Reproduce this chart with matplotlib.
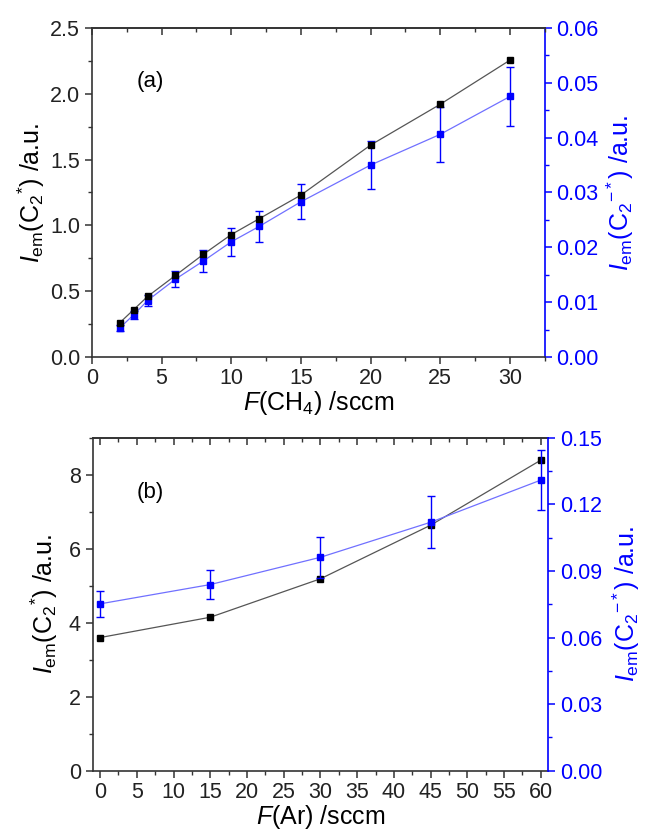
import matplotlib
matplotlib.use("Agg")
import matplotlib.pyplot as plt
from matplotlib.ticker import MultipleLocator, FormatStrFormatter

plt.rcParams['font.family'] = ['Liberation Sans', 'DejaVu Sans']
plt.rcParams['mathtext.fontset'] = 'custom'
plt.rcParams['mathtext.rm'] = 'Liberation Sans'
plt.rcParams['mathtext.it'] = 'Liberation Sans:italic'
plt.rcParams['mathtext.bf'] = 'Liberation Sans:bold'

# Panel (a) data
f_ch4 = [2, 3, 4, 6, 8, 10, 12, 15, 20, 25, 30]
c2_a = [0.26, 0.36, 0.46, 0.62, 0.78, 0.93, 1.05, 1.23, 1.61, 1.92, 2.255]
c2m_a = [0.0053, 0.0077, 0.0103, 0.0142, 0.0175, 0.0210, 0.0238, 0.0283, 0.0350, 0.0406, 0.0475]
c2m_a_err = [0.0005, 0.0007, 0.0010, 0.0014, 0.0020, 0.0026, 0.0028, 0.0032, 0.0043, 0.0050, 0.0054]

# Panel (b) data
f_ar = [0, 15, 30, 45, 60]
c2_b = [3.60, 4.15, 5.19, 6.64, 8.40]
c2m_b = [0.0752, 0.0839, 0.0962, 0.1120, 0.1310]
c2m_b_err = [0.0060, 0.0066, 0.0093, 0.0117, 0.0134]

BLUE = '#0000ff'
LBLUE = '#7070ff'
DARK = '#333333'
FS_TICK = 15.5
FS_LAB = 18

fig = plt.figure(figsize=(6.47, 8.31), dpi=100)

def style(ax, ax2):
    for s in ['left', 'bottom', 'top']:
        ax.spines[s].set_color(DARK)
        ax.spines[s].set_linewidth(1.2)
    ax.spines['right'].set_visible(False)
    ax2.spines['right'].set_color(BLUE)
    ax2.spines['right'].set_linewidth(1.2)
    for s in ['left', 'bottom', 'top']:
        ax2.spines[s].set_visible(False)
    ax.tick_params(axis='both', which='both', direction='out', colors=DARK,
                   labelcolor='#222222', labelsize=FS_TICK)
    ax.tick_params(which='major', length=5, width=1.1)
    ax.tick_params(which='minor', length=3, width=1.0)
    ax.tick_params(axis='x', which='both', top=False, pad=3)
    ax2.tick_params(axis='y', which='both', direction='out', colors=BLUE,
                    labelcolor=BLUE, labelsize=FS_TICK)
    ax2.tick_params(which='major', length=5, width=1.1)
    ax2.tick_params(which='minor', length=3, width=1.0)

def top_ticks_in(ax):
    sec = ax.secondary_xaxis('top')
    sec.set_xticks(ax.get_xticks(minor=False))
    sec.set_xticks(ax.get_xticks(minor=True), minor=True)
    sec.tick_params(which='both', direction='in', labeltop=False, colors=DARK)
    sec.tick_params(which='major', length=5, width=1.1)
    sec.tick_params(which='minor', length=3, width=1.0)
    sec.spines['top'].set_color(DARK)
    sec.spines['top'].set_linewidth(1.2)

# ---- Panel (a)
ax = fig.add_axes([0.142, 0.5704, 0.700, 0.396])
ax2 = ax.twinx()
ax.set_xlim(0, 32.5)
ax.set_ylim(0, 2.5)
ax2.set_ylim(0, 0.06)
ax.xaxis.set_major_locator(MultipleLocator(5))
ax.xaxis.set_minor_locator(MultipleLocator(2.5))
ax.yaxis.set_major_locator(MultipleLocator(0.5))
ax.yaxis.set_minor_locator(MultipleLocator(0.25))
ax.yaxis.set_major_formatter(FormatStrFormatter('%.1f'))
ax2.yaxis.set_major_locator(MultipleLocator(0.01))
ax2.yaxis.set_minor_locator(MultipleLocator(0.005))
ax2.yaxis.set_major_formatter(FormatStrFormatter('%.2f'))
style(ax, ax2)
top_ticks_in(ax)

ax.plot(f_ch4, c2_a, '-', color='#555555', lw=0.9, zorder=3)
ax.plot(f_ch4, c2_a, 's', color='black', ms=5, zorder=4)
ax2.errorbar(f_ch4, c2m_a, yerr=c2m_a_err, fmt='none', ecolor=BLUE, elinewidth=1.0,
             capsize=3, capthick=1.0, zorder=2)
ax2.plot(f_ch4, c2m_a, '-', color=LBLUE, lw=0.9, zorder=2)
ax2.plot(f_ch4, c2m_a, 's', color=BLUE, ms=5, zorder=3)
ax.set_zorder(ax2.get_zorder() + 1)
ax.patch.set_visible(False)

ax.set_xlabel(r'$\it{F}$(CH$_4$) /sccm', fontsize=FS_LAB, labelpad=0)
ax.set_ylabel(r'$\it{I}_{\rm em}$(C$_2$$^{*}$) /a.u.', fontsize=FS_LAB, labelpad=2)
ax2.set_ylabel(r'$\it{I}_{\rm em}$(C$_2$$^{-*}$) /a.u.', fontsize=FS_LAB, color=BLUE, labelpad=4)
ax.text(0.128, 0.836, '(a)', transform=ax.transAxes, fontsize=16, ha='center', va='center')

# ---- Panel (b)
bx = fig.add_axes([0.1433, 0.0726, 0.704, 0.4004])
bx2 = bx.twinx()
bx.set_xlim(-1, 61)
bx.set_ylim(0, 9)
bx2.set_ylim(0, 0.15)
bx.xaxis.set_major_locator(MultipleLocator(5))
bx.xaxis.set_minor_locator(MultipleLocator(2.5))
bx.yaxis.set_major_locator(MultipleLocator(2))
bx.yaxis.set_minor_locator(MultipleLocator(1))
bx2.yaxis.set_major_locator(MultipleLocator(0.03))
bx2.yaxis.set_minor_locator(MultipleLocator(0.015))
bx2.yaxis.set_major_formatter(FormatStrFormatter('%.2f'))
style(bx, bx2)
top_ticks_in(bx)

bx.plot(f_ar, c2_b, '-', color='#555555', lw=0.9, zorder=3)
bx.plot(f_ar, c2_b, 's', color='black', ms=5, zorder=4)
bx2.errorbar(f_ar, c2m_b, yerr=c2m_b_err, fmt='none', ecolor=BLUE, elinewidth=1.0,
             capsize=3, capthick=1.0, zorder=2)
bx2.plot(f_ar, c2m_b, '-', color=LBLUE, lw=0.9, zorder=2)
bx2.plot(f_ar, c2m_b, 's', color=BLUE, ms=5, zorder=3)

bx.set_xlabel(r'$\it{F}$(Ar) /sccm', fontsize=FS_LAB, labelpad=0)
bx.set_ylabel(r'$\it{I}_{\rm em}$(C$_2$$^{*}$) /a.u.', fontsize=FS_LAB, labelpad=6)
bx2.set_ylabel(r'$\it{I}_{\rm em}$(C$_2$$^{-*}$) /a.u.', fontsize=FS_LAB, color=BLUE, labelpad=6)
bx.text(0.126, 0.835, '(b)', transform=bx.transAxes, fontsize=16, ha='center', va='center')

fig.savefig('out.png', dpi=100)
